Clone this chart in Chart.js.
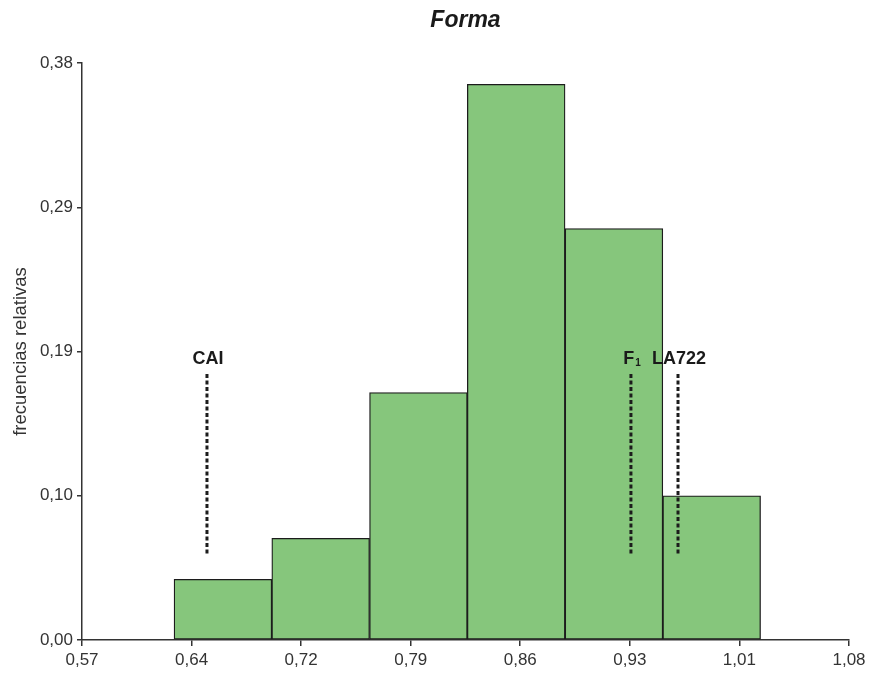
<!DOCTYPE html>
<html>
<head>
<meta charset="utf-8">
<script src="https://cdn.jsdelivr.net/npm/chart.js@4/dist/chart.umd.min.js"></script>
<style>
  html, body { margin: 0; padding: 0; background: #ffffff; }
  #wrap { width: 873px; height: 678px; }
</style>
</head>
<body>
<div id="wrap"><canvas id="c" width="873" height="678"></canvas></div>
<script>
// ---- data ----
const chartTitle = 'Forma';
const yAxisTitle = 'frecuencias relativas';
const binCenters = [0.6637, 0.7287, 0.7937, 0.8587, 0.9237, 0.9887];
const relFreq    = [0.040, 0.067, 0.163, 0.366, 0.271, 0.095];
const xTickValues = [0.57, 0.6429, 0.7157, 0.7886, 0.8614, 0.9343, 1.0071, 1.08];
const xTickLabels = ['0,57', '0,64', '0,72', '0,79', '0,86', '0,93', '1,01', '1,08'];
const yTickValues = [0, 0.095, 0.19, 0.285, 0.38];
const yTickLabels = ['0,00', '0,10', '0,19', '0,29', '0,38'];
const markerLabels = ['CAI', 'F', 'LA722'];
const markerSubs   = ['', '1', ''];
const markerX      = [0.6531, 0.935, 0.9663];
const markerYLow   = [0.057, 0.057, 0.057];
const markerYHigh  = [0.176, 0.176, 0.176];

const FONT = '"Liberation Sans", Arial, Helvetica, sans-serif';

const markerDatasets = markerX.map((x, i) => ({
  type: 'line',
  label: markerLabels[i] + markerSubs[i],
  data: [{ x: x, y: markerYLow[i] }, { x: x, y: markerYHigh[i] }],
  borderColor: '#1c1c1c',
  borderWidth: 3,
  borderDash: [4, 2.5],
  pointRadius: 0,
  fill: false,
  order: 0
}));

const overlayPlugin = {
  id: 'overlay',
  afterDatasetsDraw(chart) {
    const ctx = chart.ctx;
    const xs = chart.scales.x, ys = chart.scales.y;
    const ca = chart.chartArea;
    ctx.save();
    // title
    ctx.fillStyle = '#1a1a1a';
    ctx.font = 'italic bold 23px ' + FONT;
    ctx.textAlign = 'center';
    ctx.textBaseline = 'alphabetic';
    ctx.fillText(chartTitle, (ca.left + ca.right) / 2, 27);
    // marker labels
    for (let i = 0; i < markerLabels.length; i++) {
      const px = xs.getPixelForValue(markerX[i]) + 1;
      const py = ys.getPixelForValue(markerYHigh[i]) - 9;
      ctx.font = 'bold 18px ' + FONT;
      const wMain = ctx.measureText(markerLabels[i]).width;
      let wSub = 0;
      if (markerSubs[i]) {
        ctx.font = 'bold 10px ' + FONT;
        wSub = ctx.measureText(markerSubs[i]).width + 1;
      }
      const start = px - (wMain + wSub) / 2;
      ctx.textAlign = 'left';
      ctx.font = 'bold 18px ' + FONT;
      ctx.fillText(markerLabels[i], start, py);
      if (markerSubs[i]) {
        ctx.font = 'bold 10px ' + FONT;
        ctx.fillText(markerSubs[i], start + wMain + 1, py + 2);
      }
    }
    ctx.restore();
  }
};

new Chart(document.getElementById('c'), {
  type: 'bar',
  data: {
    datasets: [
      ...markerDatasets,
      {
        type: 'bar',
        label: 'frecuencias',
        data: binCenters.map((x, i) => ({ x: x, y: relFreq[i] })),
        backgroundColor: '#86c67c',
        borderColor: '#1c1c1c',
        borderWidth: 1.3,
        borderSkipped: false,
        barPercentage: 1.0,
        categoryPercentage: 1.0,
        grouped: false,
        order: 1
      }
    ]
  },
  options: {
    responsive: false,
    animation: false,
    devicePixelRatio: 1,
    layout: { padding: { top: 63, right: 24, bottom: 0, left: 0 } },
    plugins: {
      legend: { display: false },
      title: { display: false },
      tooltip: { enabled: false }
    },
    scales: {
      x: {
        type: 'linear',
        min: 0.57,
        max: 1.08,
        offset: false,
        afterBuildTicks(scale) { scale.ticks = xTickValues.map(v => ({ value: v })); },
        afterFit(scale) { scale.height = 38; },
        ticks: {
          autoSkip: false,
          maxRotation: 0,
          padding: 4,
          color: '#333333',
          font: { family: FONT, size: 17 },
          callback: (v, i) => xTickLabels[i]
        },
        grid: {
          display: true,
          offset: false,
          drawOnChartArea: false,
          drawTicks: true,
          tickLength: 6,
          color: '#333333',
          lineWidth: 1.5
        },
        border: { display: true, color: '#333333', width: 1.5 }
      },
      y: {
        type: 'linear',
        min: 0,
        max: 0.38,
        afterBuildTicks(scale) { scale.ticks = yTickValues.map(v => ({ value: v })); },
        afterFit(scale) { scale.width = 82; },
        ticks: {
          autoSkip: false,
          padding: 4,
          color: '#333333',
          font: { family: FONT, size: 17 },
          callback: (v, i) => yTickLabels[i]
        },
        grid: {
          display: true,
          drawOnChartArea: false,
          drawTicks: true,
          tickLength: 5,
          color: '#333333',
          lineWidth: 1.5
        },
        border: { display: true, color: '#333333', width: 1.5 },
        title: {
          display: true,
          text: yAxisTitle,
          color: '#333333',
          font: { family: FONT, size: 18.5 },
          padding: { top: 10, bottom: 0 }
        }
      }
    }
  },
  plugins: [overlayPlugin]
});
</script>
</body>
</html>
